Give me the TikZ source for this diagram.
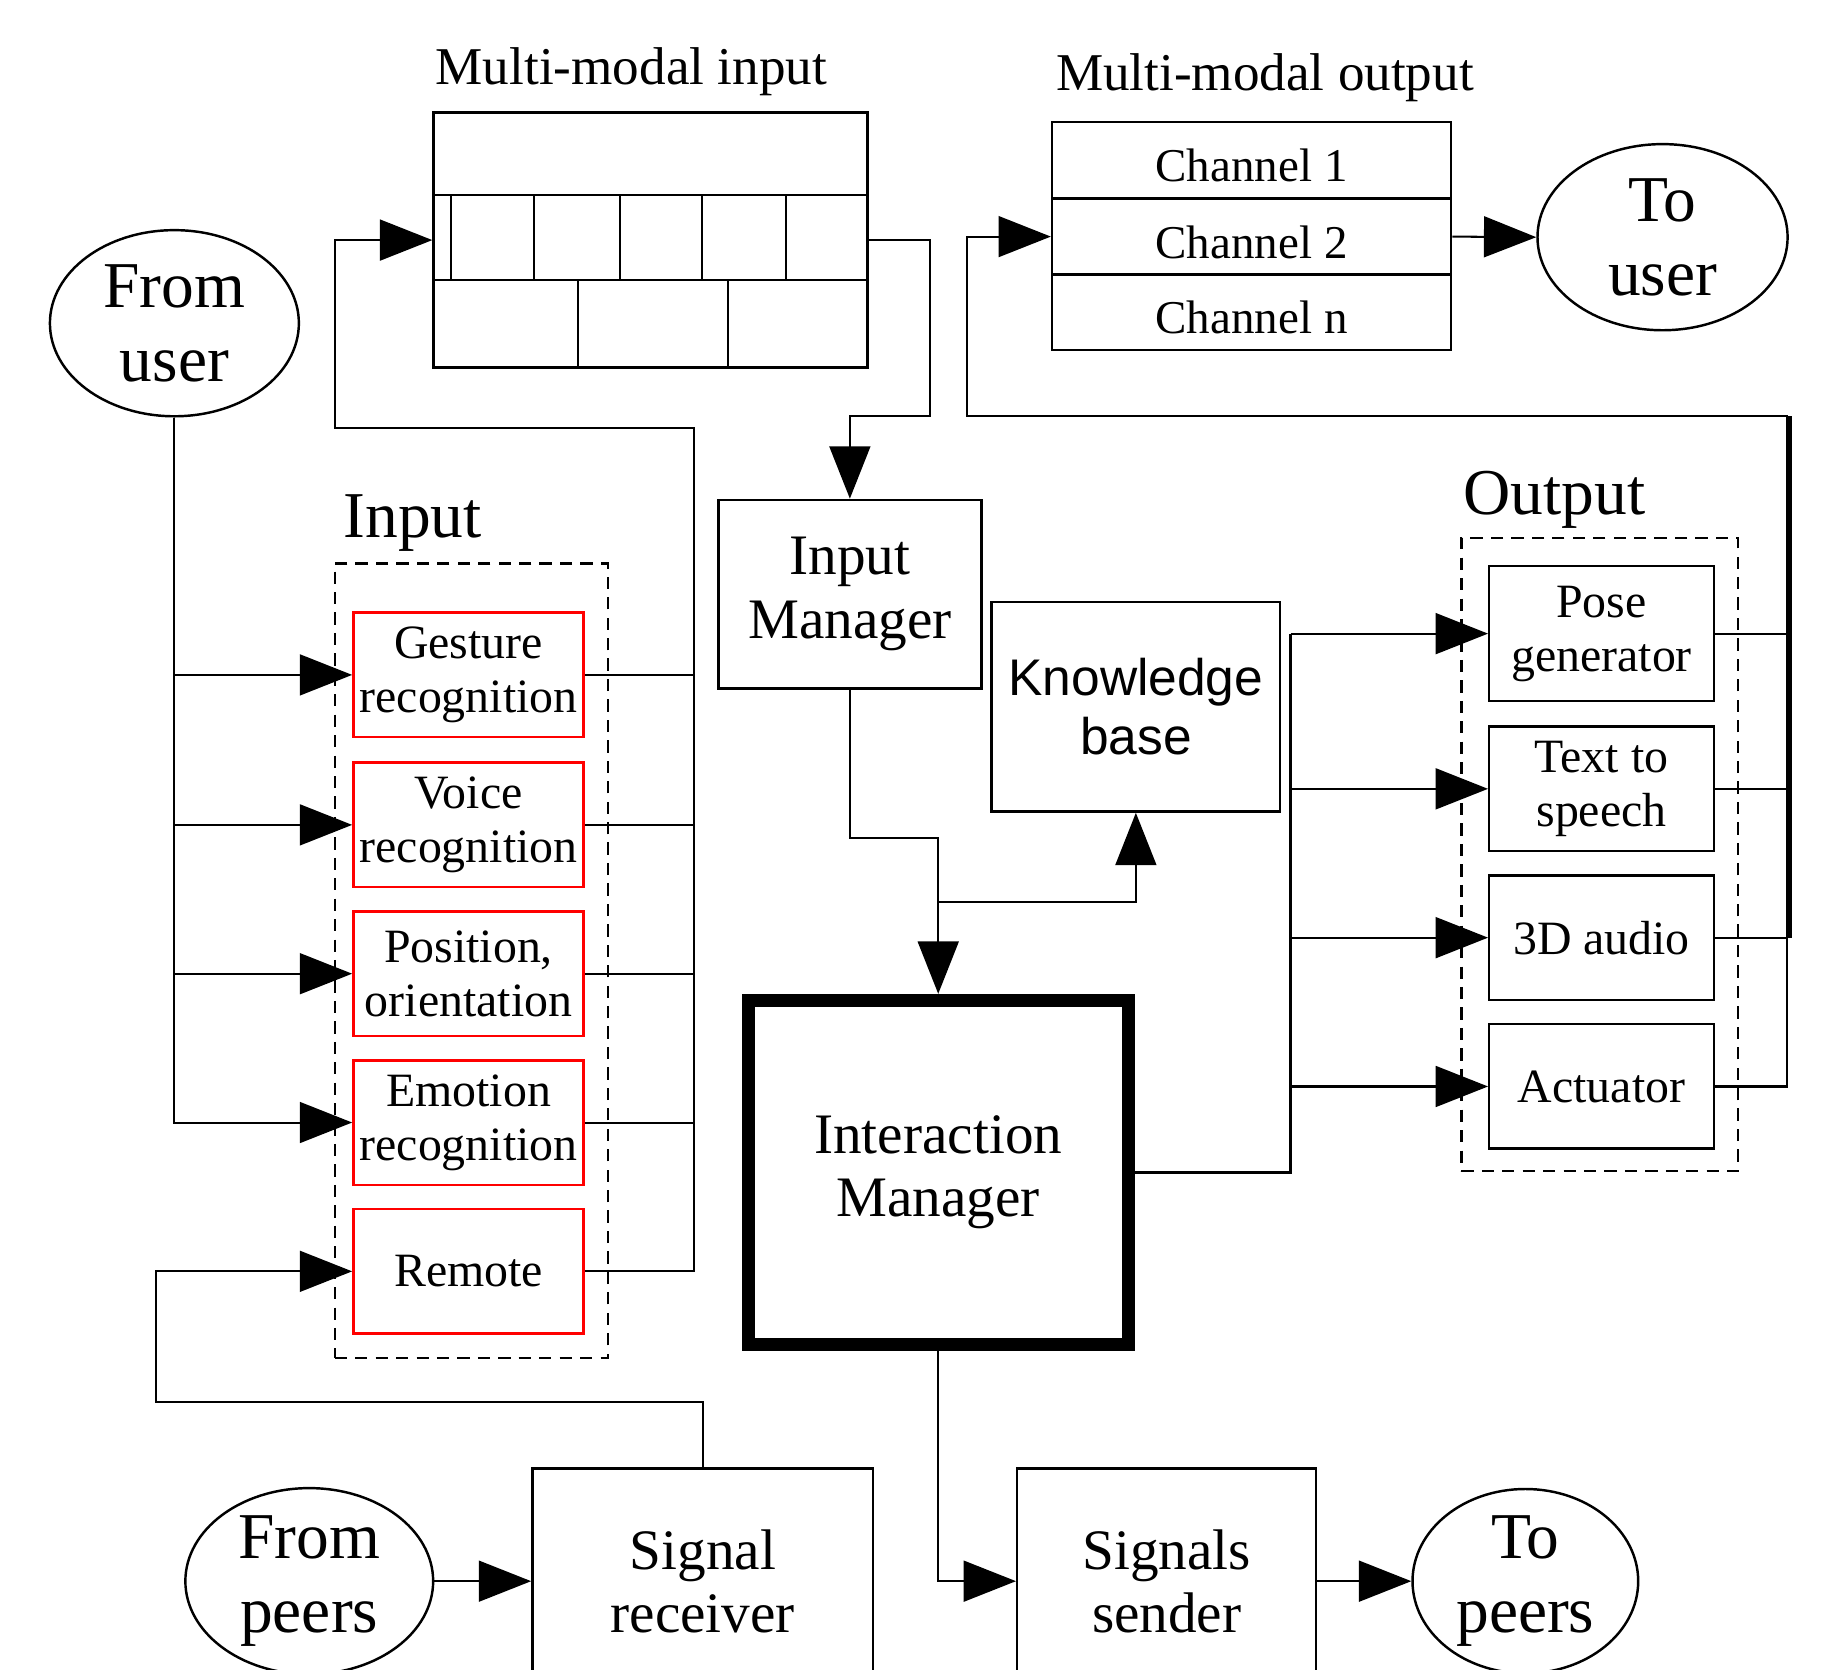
\documentclass[tikz,border=0pt]{standalone}
\usepackage{fontspec}
\setmainfont{Liberation Serif}
\newfontfamily\kbfont{Liberation Sans}
\usetikzlibrary{arrows.meta,shapes.geometric}
\newcommand\smallfnt{\fontsize{11.7}{13.2}\selectfont}
\newcommand\chanfnt{\fontsize{11.5}{13}\selectfont}
\newcommand\capfnt{\fontsize{13}{15}\selectfont}
\newcommand\midfnt{\fontsize{14}{15.5}\selectfont}
\newcommand\bigfnt{\fontsize{16}{18}\selectfont}
\newcommand\kbfnt{\kbfont\fontsize{12.6}{14.5}\selectfont}

\begin{document}
\begin{tikzpicture}[x=0.01cm,y=-0.01cm,line width=0.5pt,
    every node/.style={inner sep=0pt,align=center},
    arr/.style={-{Triangle[length=12.8pt,width=10pt]}},
    box/.style={draw,line width=0.6pt},
    redbox/.style={draw=red,line width=0.6pt,minimum width=1.98cm,minimum height=1.07cm,font=\smallfnt},
    outbox/.style={box,minimum width=1.93cm,minimum height=1.07cm,font=\smallfnt},
    chan/.style={box,minimum width=3.43cm,minimum height=0.655cm,text height=10.5pt,text depth=0pt,font=\chanfnt},
    blob/.style={draw,ellipse,line width=0.6pt,minimum width=2.14cm,minimum height=1.6cm,font=\bigfnt},
    group/.style={draw,densely dashed,line width=0.6pt}]
    \useasboundingbox (0,0) rectangle (1568,1436);
    \clip (0,0) rectangle (1568,1436);

    \node[font=\capfnt] (mmilbl) at (543,62) {Multi-modal input};
    \node[box,minimum width=3.73cm,minimum height=2.19cm] (mmi) at (559.5,206.5) {};
    \draw (mmi.west |- 0,168) -- (mmi.east |- 0,168);
    \draw (mmi.west |- 0,241) -- (mmi.east |- 0,241);
    \foreach \x in {388,459,533,604,676} \draw (\x,168) -- (\x,241);
    \foreach \x in {497,626} \draw (\x,241) -- (\x,316);

    \node[font=\capfnt] (mmolbl) at (1088,67) {Multi-modal output};
    \foreach \n/\y/\t in {ch1/137.5/1,ch2/203.5/2,chn/268.5/n}
        \node[chan] (\n) at (1076.5,\y) {Channel \t};

    \node[blob] (fromuser) at (150,278) {From\\user};
    \node[blob,minimum width=2.15cm] (touser) at (1430,204) {To\\user};

    \node[font=\bigfnt] (inlbl) at (355,450) {Input};
    \node[group,minimum width=2.35cm,minimum height=6.83cm] (ingrp) at (405.5,826.5) {};
    \foreach \n/\y/\t in {gest/580.5/Gesture\\recognition,voice/709.5/Voice\\recognition,
        pos/837.5/{Position,\\orientation},emo/965.5/Emotion\\recognition,remote/1093.5/Remote}
        \node[redbox] (\n) at (403,\y) {\t};

    \node[box,minimum width=2.26cm,minimum height=1.62cm,font=\midfnt] (inmgr) at (731,511) {Input\\Manager};
    \node[box,minimum width=2.48cm,minimum height=1.80cm,font=\kbfnt] (kb) at (977,608) {Knowledge\\base};
    \node[draw,line width=3.2pt,minimum width=3.27cm,minimum height=2.96cm,font=\midfnt] (im) at (807,1008.5) {Interaction\\Manager};

    \node[font=\bigfnt] (outlbl) at (1337,430) {Output};
    \node[group,minimum width=2.38cm,minimum height=5.44cm] (outgrp) at (1376,735) {};
    \node[outbox,minimum height=1.16cm] (pose) at (1377.5,545) {Pose\\generator};
    \foreach \n/\y/\t in {tts/678.5/Text to\\speech,aud/806.5/3D audio,act/934.5/Actuator}
        \node[outbox] (\n) at (1377.5,\y) {\t};

    \node[blob,minimum width=2.13cm] (frompeers) at (266,1360) {From\\peers};
    \node[box,minimum width=2.93cm,minimum height=1.94cm,font=\midfnt] (recv) at (604.5,1360) {Signal\\receiver};
    \node[box,minimum width=2.57cm,minimum height=1.94cm,font=\midfnt] (sender) at (1003.5,1360) {Signals\\sender};
    \node[blob,minimum width=1.94cm,minimum height=1.52cm] (topeers) at (1312,1360) {To\\peers};

    \coordinate (inbus) at (597,368);
    \coordinate (inturn) at (288,368);
    \coordinate (mmiout) at (800,358);
    \coordinate (imjoin) at (807,721);
    \coordinate (kbjoin) at (807,776);
    \coordinate (outbus) at (1110,545);
    \coordinate (outret) at (1537,358);
    \coordinate (outturn) at (832,358);
    \coordinate (rturn) at (134,1206);

    \draw[arr] (fromuser.south) |- (emo.west);
    \foreach \n in {gest,voice,pos} \draw[arr] (fromuser.south |- \n.west) -- (\n.west);
    \foreach \n in {gest,voice,pos,emo} \draw (\n.east) -- (\n.east -| inbus);
    \draw[arr] (remote.east) -| (inbus) -- (inturn) |- (mmi.west);
    \draw[arr] (mmi.east) -| (mmiout) -| (inmgr.north);

    \draw[arr] (inmgr.south) |- (imjoin) -- (im.north);
    \draw[arr] (kbjoin) -| (kb.south);
    \draw (im.east) -| (outbus);
    \foreach \n in {pose,tts,aud,act} \draw[arr] (outbus |- \n.west) -- (\n.west);
    \foreach \n in {pose,tts,aud} \draw (\n.east) -- (\n.east -| outret);
    \draw[arr] (act.east) -| (outret) -- (outturn) |- (ch2.west);
    \draw[line width=1.3pt] ([xshift=0.5pt]outret) -- ([xshift=0.5pt]outret |- aud.east);
    \draw[arr] (ch2.east) -- (touser.west);

    \draw[arr] (im.south) |- (sender.west);
    \draw[arr] (recv.north) |- (rturn) |- (remote.west);
    \draw[arr] (frompeers.east) -- (recv.west);
    \draw[arr] (sender.east) -- (topeers.west);
\end{tikzpicture}
\end{document}
